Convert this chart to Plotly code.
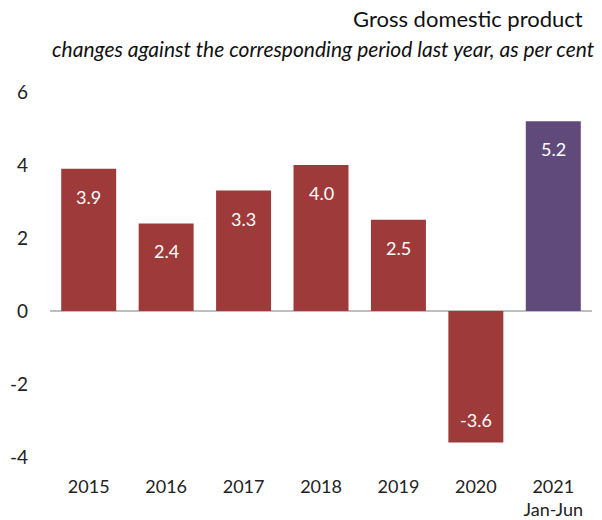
import plotly.graph_objects as go

categories = ["2015", "2016", "2017", "2018", "2019", "2020", "2021<br>Jan-Jun"]
values = [3.9, 2.4, 3.3, 4.0, 2.5, -3.6, 5.2]
labels = ["3.9", "2.4", "3.3", "4.0", "2.5", "-3.6", "5.2"]
colors = ["#9E3B3A"] * 6 + ["#604A7B"]
y_ticks = [-4, -2, 0, 2, 4, 6]
y_ticktext = ["-4", "-2", "0", "2", "4", "6"]

FONT = "Lato"

fig = go.Figure()
fig.add_trace(go.Bar(
    x=list(range(len(categories))), y=values,
    marker=dict(color=colors, line=dict(width=0)),
    width=0.71, hoverinfo="skip",
))

for i, (v, t) in enumerate(zip(values, labels)):
    fig.add_annotation(
        x=i, y=v, text=t, showarrow=False,
        yshift=-28 if v >= 0 else 22,
        font=dict(family=FONT, size=18, color="white"),
    )

fig.add_annotation(
    xref="paper", yref="paper", x=1, y=1, xanchor="right", yanchor="middle",
    xshift=-7, yshift=92 - 18, text="Gross domestic product", showarrow=False,
    font=dict(family=FONT, size=22, color="#111111"),
)
fig.add_annotation(
    xref="paper", yref="paper", x=1, y=1, xanchor="right", yanchor="middle",
    xshift=5, yshift=92 - 48,
    text="<i>changes against the corresponding period last year, as per cent</i>",
    showarrow=False, font=dict(family=FONT, size=21, color="#111111"),
)

fig.update_layout(
    width=602, height=520,
    margin=dict(l=50, r=10, t=92, b=63),
    plot_bgcolor="white", paper_bgcolor="white",
    showlegend=False,
    font=dict(family=FONT, size=18, color="#222222"),
)
fig.update_xaxes(
    range=[-0.5, 6.5], tickvals=list(range(len(categories))), ticktext=categories,
    showgrid=False, showline=False, ticks="", automargin=False,
    ticklabelstandoff=17, tickfont=dict(size=18),
)
fig.update_yaxes(
    range=[-4, 6], tickvals=y_ticks, ticktext=y_ticktext,
    showgrid=False, showline=False, ticks="", automargin=False,
    zeroline=True, zerolinecolor="#BFBFBF", zerolinewidth=1.5,
    ticklabelstandoff=21, tickfont=dict(size=19),
)

fig.write_html(
    "out.html",
    config={"displayModeBar": False},
    post_script="document.body.style.margin='0';document.body.style.overflow='hidden';",
)
